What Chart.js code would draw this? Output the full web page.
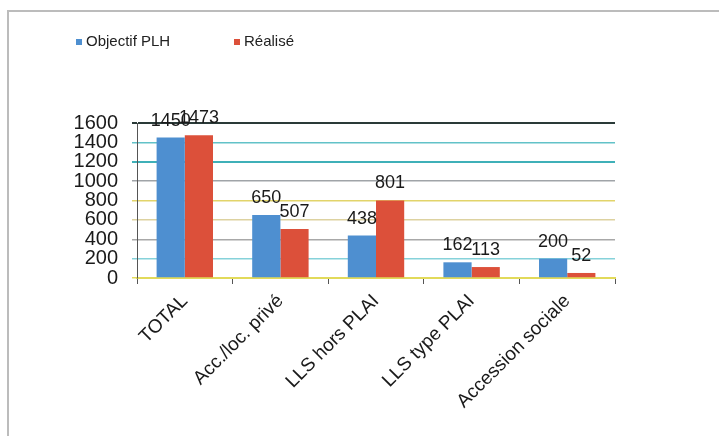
<!DOCTYPE html>
<html>
<head>
<meta charset="utf-8">
<script src="https://cdn.jsdelivr.net/npm/chart.js@4.4.1/dist/chart.umd.min.js"></script>
<style>
  body { margin: 0; background: #fff; }
  #frame { position: absolute; left: 7px; top: 10px; width: 712px; height: 426px;
           border-top: 2px solid #bcbcbc; border-left: 2px solid #bcbcbc; }
  #wrap { position: absolute; left: 0; top: 0; width: 719px; height: 436px; }
</style>
</head>
<body>
<div id="frame"></div>
<div id="wrap"><canvas id="chart" width="719" height="436"></canvas></div>
<script>
var categories = ["TOTAL", "Acc./loc. privé", "LLS hors PLAI", "LLS type PLAI", "Accession sociale"];
var objectif = [1450, 650, 438, 162, 200];
var realise = [1473, 507, 801, 113, 52];
// scanned gridlines come out in odd colours, one per tick (0, 200, ... 1600)
var gridColors = ["#e4dc5c", "#86d2da", "#a8a8a8", "#ddd2a0", "#e2d46a", "#a0a4a8", "#3fb0b8", "#62c2c8", "#2a3a38"];

var font = "'Liberation Sans', Arial, sans-serif";

// value labels above bars
var valueLabels = {
  id: "valueLabels",
  afterDatasetsDraw: function (chart) {
    var ctx = chart.ctx;
    ctx.save();
    ctx.font = "18px " + font;
    ctx.fillStyle = "#1a1a1a";
    ctx.textAlign = "center";
    ctx.textBaseline = "bottom";
    chart.data.datasets.forEach(function (ds, i) {
      chart.getDatasetMeta(i).data.forEach(function (bar, j) {
        ctx.fillText(ds.data[j], bar.x, bar.y - 8);
      });
    });
    ctx.restore();
  }
};

// small legend in the top left corner
var cornerLegend = {
  id: "cornerLegend",
  afterDraw: function (chart) {
    var ctx = chart.ctx;
    var items = [
      { x: 76, text: "Objectif PLH", color: "#4e8fd0" },
      { x: 234, text: "Réalisé", color: "#dc503a" }
    ];
    ctx.save();
    ctx.font = "15px " + font;
    ctx.textBaseline = "middle";
    items.forEach(function (it) {
      ctx.fillStyle = it.color;
      ctx.fillRect(it.x, 39, 6, 6);
      ctx.fillStyle = "#222";
      ctx.fillText(it.text, it.x + 10, 42);
    });
    ctx.restore();
  }
};

new Chart(document.getElementById("chart"), {
  type: "bar",
  data: {
    labels: categories,
    datasets: [
      { label: "Objectif PLH", data: objectif, backgroundColor: "#4e8fd0",
        categoryPercentage: 0.59, barPercentage: 1.0 },
      { label: "Réalisé", data: realise, backgroundColor: "#dc503a",
        categoryPercentage: 0.59, barPercentage: 1.0 }
    ]
  },
  options: {
    responsive: false,
    animation: false,
    layout: { padding: { left: 60, right: 104, top: 123, bottom: 0 } },
    plugins: {
      legend: { display: false },
      tooltip: { enabled: false }
    },
    scales: {
      x: {
        afterFit: function (scale) { scale.height = 158; },
        grid: { drawOnChartArea: false, tickLength: 6, color: "#555" },
        border: { color: "#e2da5a", width: 2 },
        ticks: {
          minRotation: 45, maxRotation: 45, padding: 6,
          color: "#1a1a1a",
          font: { family: font, size: 19 }
        }
      },
      y: {
        min: 0, max: 1600,
        afterFit: function (scale) { scale.width = 77; },
        grid: {
          tickLength: 5,
          lineWidth: function (c) { return c.index === 6 || c.index === 8 ? 2 : 1.5; },
          color: function (c) { return gridColors[c.index] || "#aaa"; }
        },
        border: { color: "#555", width: 1 },
        ticks: {
          stepSize: 200,
          autoSkip: false,
          padding: 14,
          color: "#1a1a1a",
          font: { family: font, size: 20 },
          callback: function (v) { return String(v); }
        }
      }
    }
  },
  plugins: [valueLabels, cornerLegend]
});
</script>
</body>
</html>
